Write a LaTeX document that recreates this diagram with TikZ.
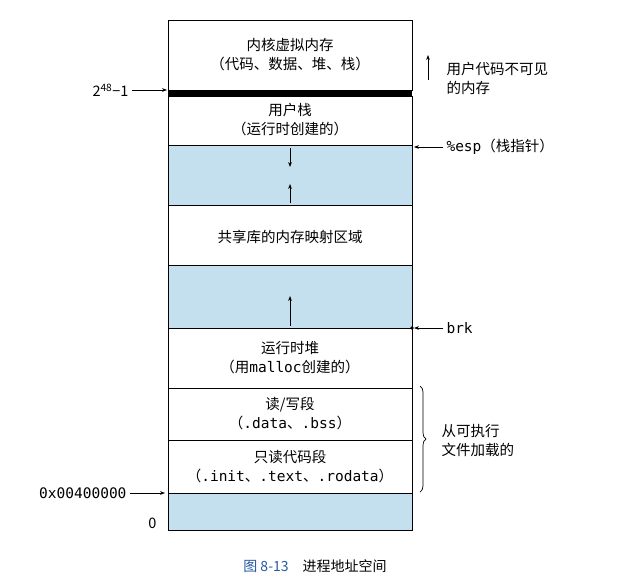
\documentclass[tikz,border=0pt]{standalone}
\usepackage{fontspec}
\setmainfont{Noto Sans CJK SC}
\setmonofont{DejaVu Sans Mono}
\usetikzlibrary{decorations.pathreplacing,arrows.meta}
\definecolor{seg}{RGB}{196,224,238}
\definecolor{capblue}{RGB}{40,90,160}
\begin{document}
\begin{tikzpicture}[x=1pt,y=-1pt,
  box/.style={draw,line width=0.8pt},
  blue/.style={box,fill=seg},
  lbl/.style={font=\fontsize{14.5}{19}\selectfont,align=center},
  arr/.style={-{Stealth[length=5pt]},line width=0.7pt}]
\useasboundingbox (0,0) rectangle (617,583);
\draw[box] (168,20) rectangle (412,90);
\fill (168,90) rectangle (412,96);
\draw[box] (168,96) rectangle (412,145);
\draw[blue] (168,145) rectangle (412,205);
\draw[box] (168,205) rectangle (412,265);
\draw[blue] (168,265) rectangle (412,328);
\draw[box] (168,328) rectangle (412,388);
\draw[box] (168,388) rectangle (412,440);
\draw[box] (168,440) rectangle (412,493);
\draw[blue] (168,493) rectangle (412,530);
\node[lbl] (k) at (290,55) {内核虚拟内存\\（代码、数据、堆、栈）};
\node[lbl] (us) at (290,120) {用户栈\\（运行时创建的）};
\node[lbl] (sh) at (290,237) {共享库的内存映射区域};
\node[lbl] (hp) at (290,358) {运行时堆\\（用\texttt{malloc}创建的）};
\node[lbl] (rw) at (290,414) {读/写段\\（\texttt{.data}、\texttt{.bss}）};
\node[lbl] (ro) at (290,467) {只读代码段\\（\texttt{.init}、\texttt{.text}、\texttt{.rodata}）};
\coordinate (a1) at (290,148); \coordinate (a1e) at (290,167);
\draw[arr] (a1) -- (a1e);
\coordinate (a2) at (290,203); \coordinate (a2e) at (290,184);
\draw[arr] (a2) -- (a2e);
\coordinate (a3) at (290,326); \coordinate (a3e) at (290,296);
\draw[arr] (a3) -- (a3e);
\coordinate (u1) at (428,80); \coordinate (u2) at (428,55);
\draw[arr] (u1) -- (u2);
\node[lbl,align=left,anchor=west] (inv) at (443,78) {用户代码不可见\\的内存};
\node[lbl,anchor=east] (top) at (132,90) {2\textsuperscript{48}−1};
\coordinate (tt) at (167,90);
\draw[arr] (top) -- (tt);
\node[lbl,anchor=west] (esp) at (443,147) {\texttt{\%esp}（栈指针）};
\coordinate (et) at (414,147);
\draw[arr] (esp) -- (et);
\node[lbl,anchor=west] (brk) at (443,328) {\texttt{brk}};
\coordinate (bt) at (414,328);
\draw[arr] (brk) -- (bt);
\fill (412,328) circle (1.8);
\node[lbl,anchor=east] (lo) at (130,493) {\texttt{0x00400000}};
\coordinate (lt) at (165,493);
\draw[arr] (lo) -- (lt);
\node[lbl,anchor=east] (z) at (160,523) {0};
\draw[decorate,decoration={brace,amplitude=6pt},line width=0.7pt] (420,386) -- (420,492);
\node[lbl,align=left,anchor=west] (ld) at (438,440) {从可执行\\文件加载的};
\node[font=\fontsize{14}{17}\selectfont] (cap) at (315,566) {\textcolor{capblue}{图 8-13}\quad 进程地址空间};
\end{tikzpicture}
\end{document}
